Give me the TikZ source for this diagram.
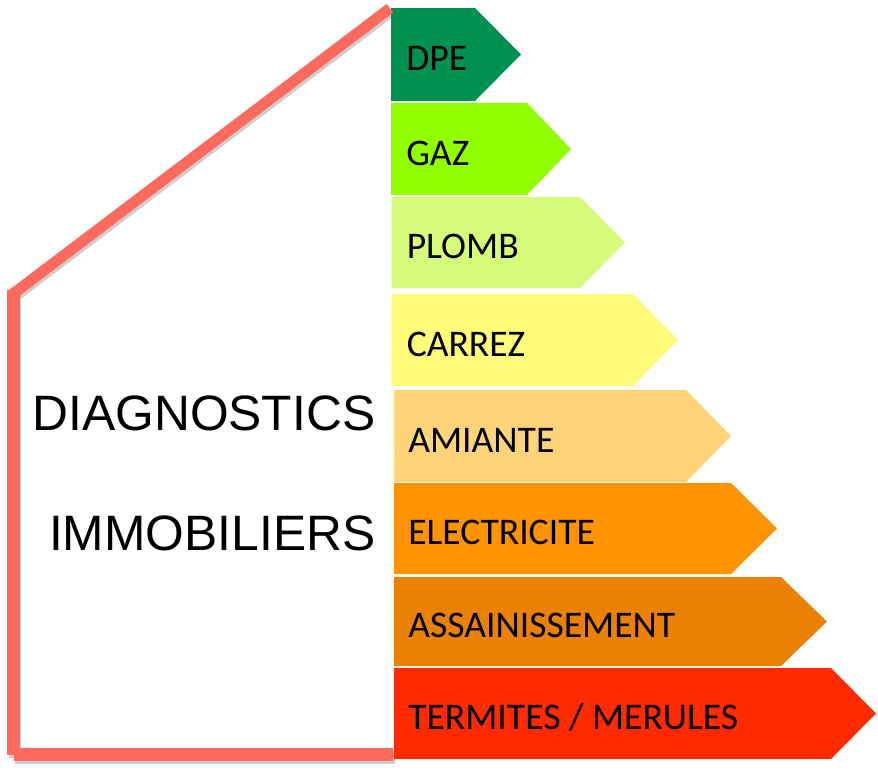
\documentclass[tikz,border=0pt]{standalone}
\usepackage{fontspec}
\setmainfont{Liberation Sans}
\newfontfamily\barfont{Carlito}
\begin{document}
\begin{tikzpicture}[x=0.75pt,y=-0.75pt,
  barlabel/.style={anchor=base west,inner sep=0pt,text=black,font=\barfont\fontsize{28.2}{32}\selectfont},
  titlelabel/.style={anchor=base east,inner sep=0pt,text=black,font=\fontsize{37.3}{40}\selectfont},
  wall/.style={line width=9.5pt,draw=wallred,line cap=butt},
  roof/.style={line width=8.2pt,draw=wallred,line cap=butt},
  wallshadow/.style={line width=9.5pt,draw=black!35,line cap=butt,opacity=.55},
  roofshadow/.style={line width=8.2pt,draw=black!35,line cap=butt,opacity=.55}]
\definecolor{wallred}{HTML}{FF6A5E}
\useasboundingbox (0,0) rectangle (878,771);
\fill[white] (0,0) rectangle (878,771);
\newcommand{\ebar}[8]{%
  \fill[#7] (#2,#3) -- (#5,#3) -- (#6,{(#3+#4)/2}) -- (#5,#4) -- (#2,#4) -- cycle;
  \node[barlabel] (#1) at ({#2+\ifdim #2pt<393pt 15\else 14\fi},{(#3+#4)/2+16}) {#8};}
\definecolor{c1}{HTML}{009150}
\definecolor{c2}{HTML}{92FF00}
\definecolor{c3}{HTML}{D6FB79}
\definecolor{c4}{HTML}{FFFC79}
\definecolor{c5}{HTML}{FFD479}
\definecolor{c6}{HTML}{FF9300}
\definecolor{c7}{HTML}{EA8103}
\definecolor{c8}{HTML}{FF2A00}
\coordinate (roofTop) at (390,8.3);
\coordinate (eave) at (11.5,295);
\coordinate (wallTop) at (13.5,290);
\coordinate (foot) at (13.5,754.5);
\coordinate (baseStart) at (13.5,754.5);
\coordinate (baseEnd) at (393,754.5);
\draw[roofshadow] ([shift={(1.5,3)}]roofTop) -- ([shift={(1.5,3)}]eave);
\draw[wallshadow] ([shift={(1.5,3)}]wallTop) -- ([shift={(1.5,3)}]foot);
\draw[wallshadow] ([shift={(1.5,3)}]baseStart) -- ([shift={(1.5,3)}]baseEnd);
\ebar{dpe}{391}{8}{101}{475}{521}{c1}{DPE}
\ebar{gaz}{391}{103}{195}{527}{571}{c2}{GAZ}
\ebar{plomb}{391.5}{197}{288}{580}{625}{c3}{PLOMB}
\ebar{carrez}{391.5}{294}{386}{633}{678}{c4}{CARREZ}
\ebar{amiante}{394}{390}{482}{686}{731}{c5}{AMIANTE}
\ebar{elec}{394}{483}{574}{731}{777}{c6}{ELECTRICITE}
\ebar{assain}{394}{577}{666}{781}{827}{c7}{ASSAINISSEMENT}
\ebar{termites}{394}{668}{759}{831}{876}{c8}{TERMITES / MERULES}
\draw[wall] (wallTop) -- (foot);
\draw[wall] (baseStart) -- (baseEnd);
\draw[roof] (roofTop) -- (eave);
\node[titlelabel] (diag) at (375.5,430) {DIAGNOSTICS};
\node[titlelabel] (immo) at (375.5,550) {IMMOBILIERS};
\end{tikzpicture}
\end{document}
